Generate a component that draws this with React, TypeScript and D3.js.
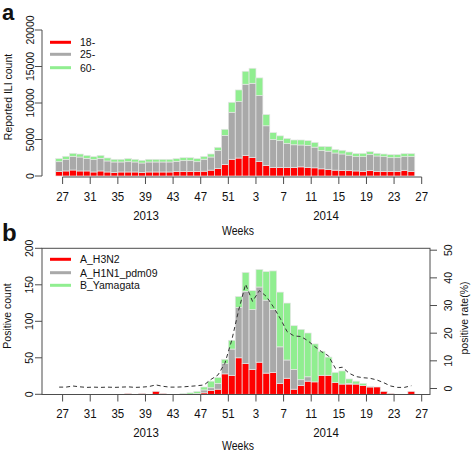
import React from "react";
import * as d3 from "d3";

// ---------- data ----------
const weekTickLabels = ["27", "31", "35", "39", "43", "47", "51", "3", "7", "11", "15", "19", "23", "27"];
const yearLabels = ["2013", "2014"];

const ageGroups = ["18-", "25-", "60-"];
const ili18 = [600, 690, 820, 690, 690, 550, 690, 550, 460, 550, 550, 550, 460, 550, 550, 550, 550, 640, 640, 640, 640, 660, 800, 1030, 1580, 2290, 2460, 2810, 2540, 1990, 1460, 1170, 1170, 1170, 1170, 1250, 1170, 1120, 980, 910, 800, 770, 730, 690, 640, 730, 640, 640, 640, 640, 780, 640];
const ili25 = [1360, 1590, 1880, 1910, 1730, 1690, 1730, 1510, 1460, 1370, 1410, 1370, 1320, 1370, 1370, 1370, 1370, 1370, 1460, 1460, 1320, 1640, 1800, 2470, 3970, 6440, 7730, 9760, 10160, 9020, 5420, 3810, 3670, 3310, 3110, 3000, 3030, 2830, 2490, 2490, 2350, 2250, 2120, 1960, 2010, 2195, 2100, 2010, 1870, 1870, 1870, 2010];
const ili60 = [420, 420, 410, 410, 410, 410, 410, 410, 370, 370, 420, 370, 370, 370, 370, 370, 370, 370, 410, 410, 420, 380, 415, 430, 850, 1370, 1600, 1780, 2060, 2430, 1530, 960, 660, 660, 655, 685, 640, 640, 590, 620, 480, 500, 440, 435, 460, 410, 370, 365, 415, 415, 410, 410];

const virusTypes = ["A_H3N2", "A_H1N1_pdm09", "B_Yamagata"];
const h3n2 = [0, 0, 0, 0, 0, 0, 0, 0, 0, 0, 1, 0, 1, 0, 4, 1, 0, 0, 0, 0, 0, 2, 5, 7, 28, 26, 50, 42, 34, 44, 29, 30, 15, 22, 7, 12, 18, 17, 26, 26, 16, 14, 14, 14, 12, 10, 10, 4, 1, 0, 0, 4];
const h1n1 = [0, 0, 0, 0, 0, 0, 0, 0, 0, 0, 0, 0, 0, 0, 0, 0, 0, 0, 0, 0, 1, 4, 4, 8, 14, 36, 69, 99, 82, 103, 100, 86, 50, 25, 27, 8, 6, 0, 0, 0, 0, 0, 1, 0, 0, 0, 0, 0, 0, 0, 0, 0];
const bYamagata = [0, 0, 0, 0, 0, 0, 0, 0, 0, 0, 0, 0, 0, 0, 0, 0, 0, 0, 1, 2, 3, 4, 9, 8, 6, 12, 15, 26, 26, 24, 39, 53, 75, 78, 60, 69, 60, 52, 33, 25, 14, 18, 6, 4, 3, 1, 0, 0, 0, 0, 0, 0];
const positiveRate = [0.5, 0.5, 0.9, 0.6, 0.4, 0.5, 0.4, 0.5, 0.4, 0.5, 0.6, 0.4, 0.5, 0.7, 1.3, 0.8, 0.5, 0.5, 0.6, 0.8, 1.0, 1.3, 3.3, 4.9, 9.1, 17.5, 28.4, 37.7, 31.5, 35.4, 33.3, 29.6, 25.4, 20.6, 19.0, 18.8, 17.3, 15.2, 13.3, 11.8, 7.3, 7.7, 5.5, 4.3, 3.9, 3.7, 3.1, 2.1, 0.9, 0.4, 0.4, 1.0];

const iliTicks = [0, 5000, 10000, 15000, 20000];
const countTicks = [0, 50, 100, 150, 200];
const rateTicks = [0, 10, 20, 30, 40, 50];

// ---------- styles ----------
const COLORS = ["#ff0000", "#a9a9a9", "#90ee90"];
const FONT = "'Liberation Sans', Arial, Helvetica, sans-serif";
const AXIS = "#4d4d4d";
const BAR_STROKE = "#e6e6e6";
const STRETCH = 1.13;

const nWeeks = ili18.length;
const x = d3.scaleLinear().domain([0, nWeeks + 1]).range([55.7, 421.7]);
const tickPos = weekTickLabels.map((_, k) => x(4 * k + 1));

function stackRows(series: number[][]) {
  const rows = series[0].map((_, i) => {
    const o: Record<string, number> = { i };
    series.forEach((s, j) => (o["s" + j] = s[i]));
    return o;
  });
  return d3.stack<Record<string, number>>().keys(series.map((_, j) => "s" + j))(rows);
}

function T({ x, y, children, size = 11.5, anchor = "middle", stretch = STRETCH }: any) {
  return (
    <text
      transform={`translate(${x},${y}) scale(1,${stretch})`}
      textAnchor={anchor}
      fontSize={size}
      fontFamily={FONT}
      fill="#111"
    >
      {children}
    </text>
  );
}

function RT({ x, y, children, size = 10.5 }: any) {
  return (
    <text
      transform={`translate(${x},${y}) rotate(-90)`}
      textAnchor="middle"
      fontSize={size}
      fontFamily={FONT}
      fill="#111"
    >
      {children}
    </text>
  );
}

function Bars({ series, y }: { series: number[][]; y: d3.ScaleLinear<number, number> }) {
  const stacked = stackRows(series);
  const w = x(1) - x(0);
  return (
    <g>
      {stacked.map((layer, j) =>
        layer.map((d, i) => {
          const h = y(d[0]) - y(d[1]);
          if (h <= 0.01) return null;
          return (
            <rect
              key={j + "-" + i}
              x={x(i)}
              y={y(d[1])}
              width={w}
              height={h}
              fill={COLORS[j]}
              stroke={BAR_STROKE}
              strokeWidth={0.7}
            />
          );
        })
      )}
    </g>
  );
}

function XAxis({ y0, labelY, yearY, titleY, drawLine }: any) {
  return (
    <g>
      {drawLine && (
        <line x1={tickPos[0]} x2={tickPos[tickPos.length - 1]} y1={y0} y2={y0} stroke={AXIS} strokeWidth={1} />
      )}
      {tickPos.map((p, k) => (
        <g key={k}>
          <line x1={p} x2={p} y1={y0} y2={y0 + 7} stroke={AXIS} strokeWidth={1} />
          <T x={p} y={labelY}>{weekTickLabels[k]}</T>
        </g>
      ))}
      <T x={146} y={yearY}>{yearLabels[0]}</T>
      <T x={326} y={yearY}>{yearLabels[1]}</T>
      <T x={238} y={titleY} size={10.5}>Weeks</T>
    </g>
  );
}

function Legend({ labels, x0, ys }: { labels: string[]; x0: number; ys: number[] }) {
  return (
    <g>
      {labels.map((l, j) => (
        <g key={l}>
          <line x1={x0} x2={x0 + 21} y1={ys[j]} y2={ys[j]} stroke={COLORS[j]} strokeWidth={3} />
          <T x={x0 + 30} y={ys[j] + 4} size={10.5} anchor="start" stretch={1.05}>{l}</T>
        </g>
      ))}
    </g>
  );
}

export default function App() {
  // panel a
  const ya = d3.scaleLinear().domain([0, 20000]).range([176, 30]);
  // panel b
  const yb = d3.scaleLinear().domain([0, 200]).range([394.3, 248.3]);
  const yr = d3.scaleLinear().domain([0, 50]).range([388.5, 250.2]);
  const boxL = 42, boxR = 430, boxT = 248.3, boxB = 394.5;

  const rateLine = d3
    .line<number>()
    .x((_, i) => x(i + 0.5))
    .y((d) => yr(d))(positiveRate);

  return (
    <svg
      width={472}
      height={451}
      style={{ position: "absolute", left: 0, top: 0, background: "#fff" }}
    >
      <rect x={0} y={0} width={472} height={451} fill="#fff" />
      {/* ---------- panel a ---------- */}
      <text x={2} y={19.5} fontSize={22} fontWeight="bold" fontFamily={FONT} fill="#111">a</text>
      <Bars series={[ili18, ili25, ili60]} y={ya} />
      <line x1={42} x2={42} y1={ya(20000)} y2={ya(0)} stroke={AXIS} strokeWidth={1} />
      {iliTicks.map((t) => (
        <g key={t}>
          <line x1={35} x2={42} y1={ya(t)} y2={ya(t)} stroke={AXIS} strokeWidth={1} />
          <RT x={34} y={ya(t)}>{t}</RT>
        </g>
      ))}
      <RT x={11.5} y={97} size={10.5}>Reported ILI count</RT>
      <XAxis y0={177} labelY={200.5} yearY={219.5} titleY={235} drawLine={true} />
      <Legend labels={ageGroups} x0={50} ys={[42.3, 54.3, 67.7]} />

      {/* ---------- panel b ---------- */}
      <text x={2} y={241} fontSize={24} fontWeight="bold" fontFamily={FONT} fill="#111">b</text>
      <Bars series={[h3n2, h1n1, bYamagata]} y={yb} />
      <path d={rateLine || ""} fill="none" stroke="#333" strokeWidth={1} strokeDasharray="4,3" />
      <rect x={boxL} y={boxT} width={boxR - boxL} height={boxB - boxT} fill="none" stroke={AXIS} strokeWidth={1} />
      {countTicks.map((t) => (
        <g key={t}>
          <line x1={35} x2={42} y1={yb(t)} y2={yb(t)} stroke={AXIS} strokeWidth={1} />
          <RT x={32.5} y={yb(t)}>{t}</RT>
        </g>
      ))}
      <RT x={11} y={316} size={10.5}>Positive count</RT>
      {rateTicks.map((t) => (
        <g key={t}>
          <line x1={boxR} x2={boxR + 7} y1={yr(t)} y2={yr(t)} stroke={AXIS} strokeWidth={1} />
          <RT x={452} y={yr(t)}>{t}</RT>
        </g>
      ))}
      <RT x={468} y={318} size={10.5}>positive rate(%)</RT>
      <XAxis y0={boxB} labelY={418} yearY={436.5} titleY={449.5} drawLine={false} />
      <Legend labels={virusTypes} x0={50} ys={[259.3, 272.7, 285.3]} />
    </svg>
  );
}
